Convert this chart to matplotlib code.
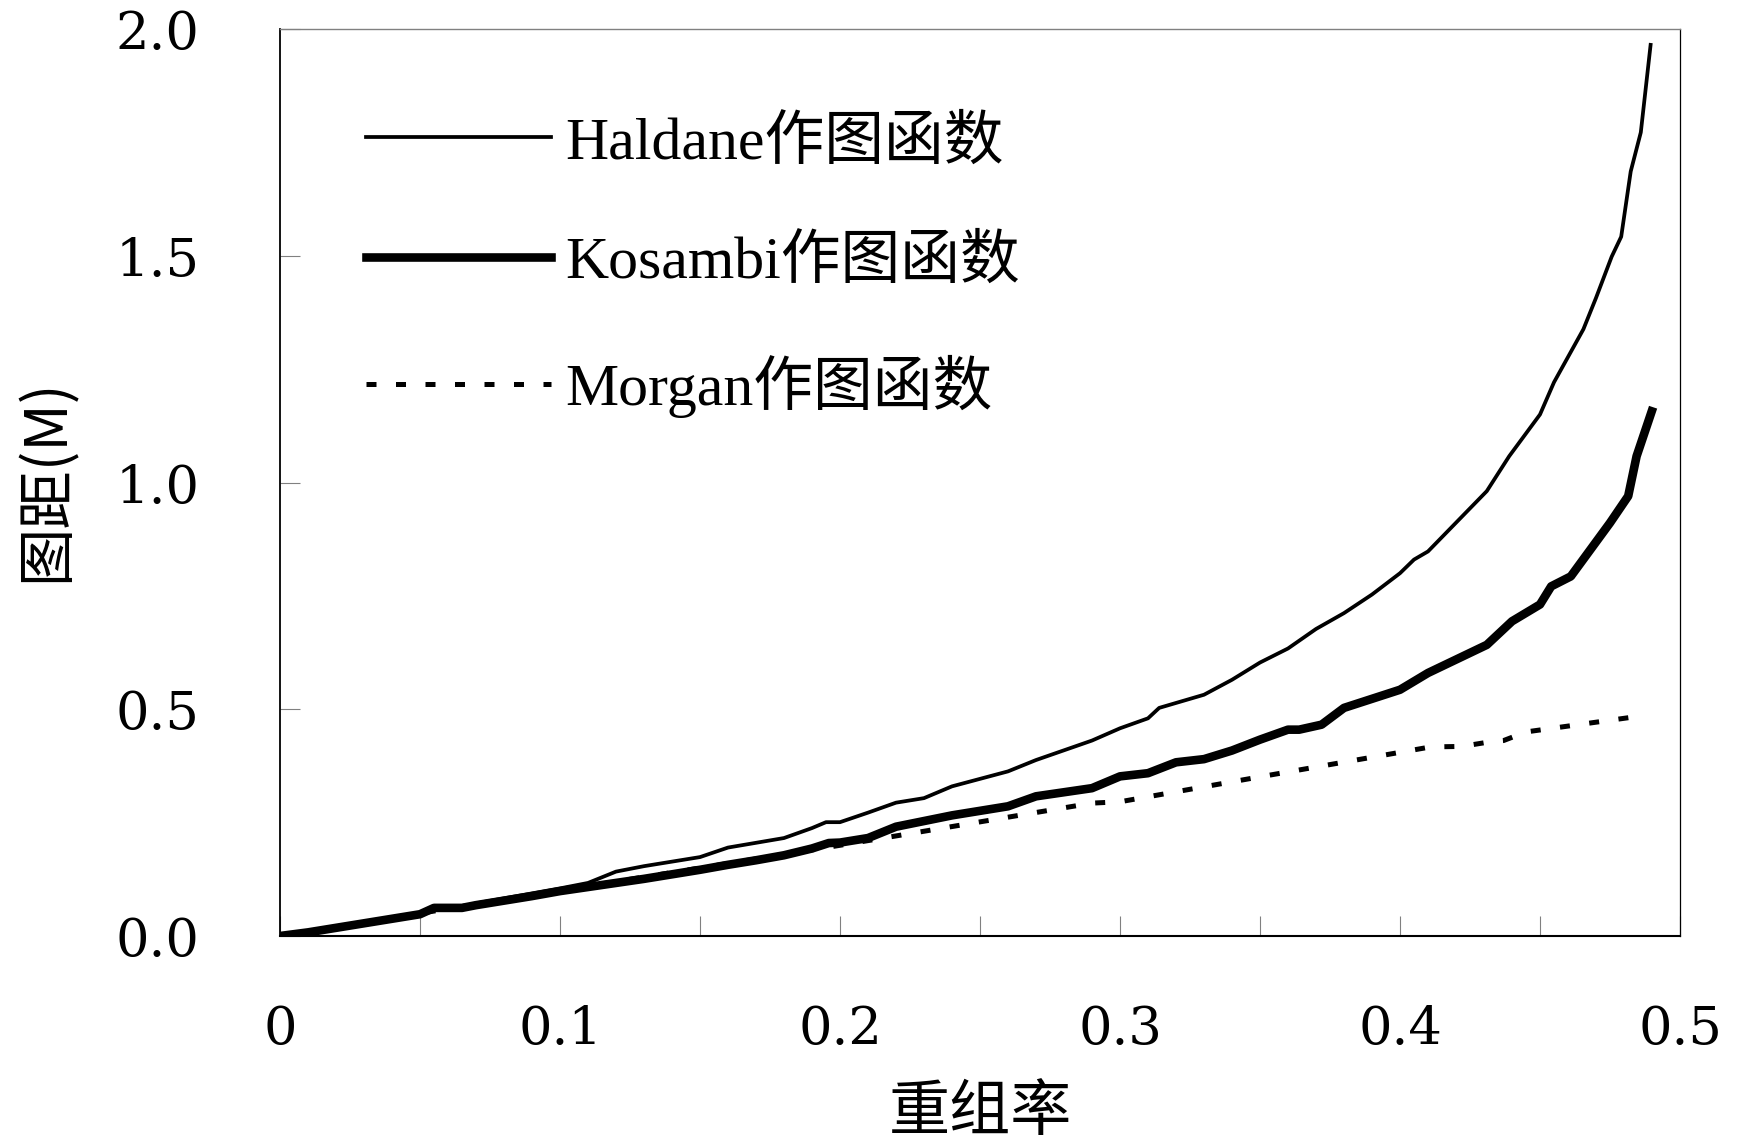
import matplotlib
matplotlib.use('Agg')
import matplotlib.pyplot as plt
from matplotlib.font_manager import FontProperties
from matplotlib.ticker import FixedLocator

# recombination fraction (x) and map distance in Morgans (y)
haldane_r = [0, 0.01, 0.02, 0.03, 0.04, 0.05, 0.055, 0.065, 0.07, 0.08, 0.09, 0.10,
             0.11, 0.12, 0.13, 0.15, 0.16, 0.18, 0.19, 0.195, 0.20, 0.21, 0.22, 0.23,
             0.24, 0.26, 0.27, 0.29, 0.30, 0.31, 0.314, 0.33, 0.34, 0.35, 0.36, 0.37,
             0.38, 0.39, 0.40, 0.405, 0.41, 0.431, 0.439, 0.45, 0.455, 0.4655, 0.470,
             0.4756, 0.479, 0.4824, 0.486, 0.4895]
haldane_d = [0, 0.010, 0.020, 0.030, 0.041, 0.050, 0.064, 0.065, 0.072, 0.083, 0.094, 0.105,
             0.117, 0.142, 0.154, 0.174, 0.195, 0.216, 0.238, 0.251, 0.251, 0.272, 0.294, 0.304,
             0.330, 0.363, 0.388, 0.431, 0.458, 0.480, 0.503, 0.532, 0.565, 0.603, 0.634, 0.677,
             0.712, 0.753, 0.800, 0.830, 0.848, 0.981, 1.058, 1.150, 1.221, 1.338, 1.407,
             1.498, 1.542, 1.686, 1.772, 1.965]

kosambi_r = [0, 0.01, 0.02, 0.03, 0.04, 0.05, 0.055, 0.065, 0.07, 0.08, 0.09, 0.10,
             0.11, 0.12, 0.13, 0.14, 0.15, 0.16, 0.17, 0.18, 0.19, 0.196, 0.20, 0.21,
             0.22, 0.24, 0.26, 0.27, 0.29, 0.30, 0.31, 0.32, 0.33, 0.34, 0.35, 0.36,
             0.364, 0.372, 0.38, 0.40, 0.41, 0.431, 0.44, 0.45, 0.454, 0.461, 0.475,
             0.4815, 0.4845, 0.4899]
kosambi_d = [0, 0.008, 0.018, 0.028, 0.038, 0.048, 0.062, 0.062, 0.068, 0.078, 0.088, 0.099,
             0.108, 0.117, 0.126, 0.136, 0.146, 0.157, 0.167, 0.178, 0.193, 0.205, 0.206, 0.216,
             0.241, 0.266, 0.286, 0.308, 0.326, 0.352, 0.359, 0.383, 0.390, 0.409, 0.433, 0.455,
             0.455, 0.466, 0.503, 0.543, 0.580, 0.642, 0.694, 0.731, 0.771, 0.793, 0.911,
             0.970, 1.058, 1.157]

morgan_r = [0, 0.10, 0.20, 0.29, 0.30, 0.31, 0.35, 0.40, 0.411, 0.422, 0.433, 0.437, 0.445, 0.487]
morgan_d = [0, 0.10, 0.20, 0.293, 0.296, 0.307, 0.351, 0.405, 0.417, 0.418, 0.429, 0.431, 0.450, 0.486]

labels = ['Haldane作图函数', 'Kosambi作图函数', 'Morgan作图函数']
x_ticks = [0, 0.1, 0.2, 0.3, 0.4, 0.5]
x_ticklabels = ['0', '0.1', '0.2', '0.3', '0.4', '0.5']
x_minor = [0.05, 0.15, 0.25, 0.35, 0.45]
y_ticks = [0, 0.5, 1.0, 1.5, 2.0]
y_ticklabels = ['0.0', '0.5', '1.0', '1.5', '2.0']

W, H = 1741, 1143
fig = plt.figure(figsize=(W / 100, H / 100), dpi=100)
ax = fig.add_axes([280 / W, 1 - 936 / H, 1400 / W, 907 / H])

ax.plot(haldane_r, haldane_d, color='black', lw=2.7, label=labels[0])
ax.plot(kosambi_r, kosambi_d, color='black', lw=6.2, label=labels[1])
ax.plot(morgan_r, morgan_d, color='black', lw=3.6, linestyle=(0, (2.0, 3.9)), label=labels[2])

ax.set_xlim(0, 0.5)
ax.set_ylim(0, 2.0)

ax.xaxis.set_major_locator(FixedLocator(x_ticks))
ax.xaxis.set_minor_locator(FixedLocator(x_minor))
ax.set_xticklabels(x_ticklabels)
ax.yaxis.set_major_locator(FixedLocator(y_ticks))
ax.set_yticklabels(y_ticklabels)

tick_font = FontProperties(family='DejaVu Serif', size=38)
for t in ax.get_xticklabels() + ax.get_yticklabels():
    t.set_fontproperties(tick_font)

ax.tick_params(axis='both', which='both', direction='in', length=14.5, width=0.8, color='#808080')
ax.tick_params(axis='x', which='major', pad=49)
ax.tick_params(axis='y', which='major', pad=58)

ax.spines['left'].set_linewidth(1.3)
ax.spines['bottom'].set_linewidth(1.5)
ax.spines['top'].set_color('#808080')
ax.spines['top'].set_linewidth(1.0)
ax.spines['right'].set_linewidth(0.9)

ax.set_xlabel('重组率', fontsize=44, family=['Noto Sans CJK SC', 'DejaVu Sans'], va='center')
ax.xaxis.set_label_coords(0.5, -0.195)
ax.set_ylabel('图距(M)', fontsize=42, family=['Noto Sans CJK SC', 'DejaVu Sans'], va='center')
ax.yaxis.set_label_coords(-0.1664, 0.503)

leg_font = FontProperties(family=['Liberation Serif', 'Noto Sans CJK SC'], size=43)
ax.legend(loc='upper left', bbox_to_anchor=(366 / W, 1 - 116 / H), bbox_transform=fig.transFigure,
          frameon=False, prop=leg_font, handlelength=3.1, handletextpad=0.23,
          labelspacing=1.07, borderpad=0, borderaxespad=0)

fig.savefig('out.png', dpi=100)
